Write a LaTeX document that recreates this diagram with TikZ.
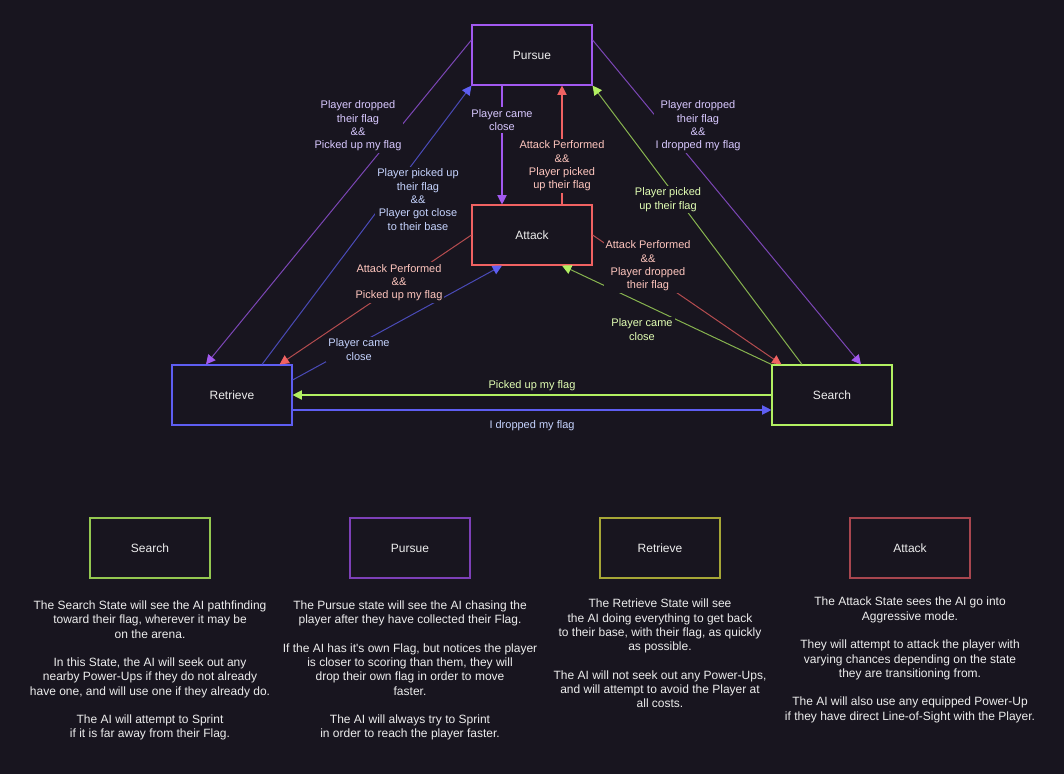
\documentclass[tikz,border=0pt]{standalone}
\usepackage{fontspec}
\setmainfont{Liberation Sans}
\usetikzlibrary{positioning,calc,arrows.meta}

\definecolor{bg}{HTML}{18151F}
\definecolor{cpur}{HTML}{A259F0}
\definecolor{cred}{HTML}{F06262}
\definecolor{cblu}{HTML}{5E5EF2}
\definecolor{cgrn}{HTML}{B2F062}
\definecolor{tpur}{HTML}{D8C8FF}
\definecolor{tred}{HTML}{FFC6BE}
\definecolor{tblu}{HTML}{C6D4FF}
\definecolor{tgrn}{HTML}{E2FFB4}
\definecolor{ttxt}{HTML}{EDEDED}
\definecolor{lgrn}{HTML}{94C850}
\definecolor{lpur}{HTML}{7D40B8}
\definecolor{lyel}{HTML}{A6A636}
\definecolor{lred}{HTML}{A8464F}

\begin{document}
\begin{tikzpicture}[x=0.75pt,y=-0.75pt,
    state/.style={draw=#1,rectangle,minimum width=90pt,minimum height=45pt,line width=0.85pt,fill=bg,text=ttxt,inner sep=0pt,font=\fontsize{9}{10}\selectfont},
    edge/.style={line width=0.8pt,draw=#1,-{Triangle[length=7pt,width=7pt,color=#1]}},
    slant/.style={line width=0.75pt,draw=#1!72!bg,-{Triangle[length=7pt,width=7pt,color=#1]}},
    lbl/.style={fill=bg,align=center,inner sep=1.5pt,font=\fontsize{8.25}{10}\selectfont},
    desc/.style={align=center,anchor=north,text=ttxt,inner sep=0pt,font=\fontsize{9}{10.7}\selectfont}]
    \fill[bg] (0,0) rectangle (1064,774);
    \useasboundingbox (0,0) rectangle (1064,774);

    % States
    \node[state=cpur] (pursue) at (532,55) {Pursue};
    \node[state=cred] (attack) at (532,235) {Attack};
    \node[state=cblu] (retrieve) at (232,395) {Retrieve};
    \node[state=cgrn] (search) at (832,395) {Search};

    % Transitions
    \draw[edge=cpur] ($(pursue.south)+(-30,0)$) -- ($(attack.north)+(-30,0)$);
    \draw[edge=cred] ($(attack.north)+(30,0)$) -- ($(pursue.south)+(30,0)$);
    \draw[slant=cpur] ($(pursue.west)+(0,-15)$) -- ($(retrieve.north)+(-26,0)$);
    \draw[slant=cblu] ($(retrieve.north)+(30,0)$) -- (pursue.south west);
    \draw[slant=cgrn] ($(search.north)+(-30,0)$) -- (pursue.south east);
    \draw[slant=cpur] ($(pursue.east)+(0,-15)$) -- ($(search.north)+(29,0)$);
    \draw[slant=cred] (attack.west) -- ($(retrieve.north east)+(-13,0)$);
    \draw[slant=cblu] ($(retrieve.east)+(0,-15)$) -- ($(attack.south)+(-30,0)$);
    \draw[slant=cgrn] (search.north west) -- ($(attack.south)+(30,0)$);
    \draw[slant=cred] (attack.east) -- ($(search.north west)+(10,0)$);
    \draw[edge=cgrn] (search.west) -- (retrieve.east);
    \draw[edge=cblu] ($(retrieve.east)+(0,15)$) -- ($(search.west)+(0,15)$);

    % Transition labels
    \node[lbl,text=tpur] (l1) at (502,120) {Player came\\close};
    \node[lbl,text=tred] (l2) at (562,166) {Attack Performed\\\&\&\\Player picked\\up their flag};
    \node[lbl,text=tpur] (l3) at (358,126) {Player dropped\\their flag\\\&\&\\Picked up my flag};
    \node[lbl,text=tblu] (l4) at (418,199.5) {Player picked up\\their flag\\\&\&\\Player got close\\to their base};
    \node[lbl,text=tgrn] (l5) at (668,199.5) {Player picked\\up their flag};
    \node[lbl,text=tpur] (l6) at (698,126) {Player dropped\\their flag\\\&\&\\I dropped my flag};
    \node[lbl,text=tred] (l7) at (399,282.5) {Attack Performed\\\&\&\\Picked up my flag};
    \node[lbl,text=tblu] (l8) at (359,349.5) {Player came\\close};
    \node[lbl,text=tgrn] (l9) at (642,329.5) {Player came\\close};
    \node[lbl,text=tred] (l10) at (648,266) {Attack Performed\\\&\&\\Player dropped\\their flag};
    \node[lbl,text=tgrn] (l11) at (532,386) {Picked up my flag};
    \node[lbl,text=tblu] (l12) at (532,426) {I dropped my flag};

    % Legend
    \node[state=lgrn] (lsearch) at (150,548) {Search};
    \node[state=lpur] (lpursue) at (410,548) {Pursue};
    \node[state=lyel] (lretrieve) at (660,548) {Retrieve};
    \node[state=lred] (lattack) at (910,548) {Attack};

    \node[desc] (dsearch) at (150,600.5) {The Search State will see the AI pathfinding\\toward their flag, wherever it may be\\on the arena.\\[10.7pt]In this State, the AI will seek out any\\nearby Power-Ups if they do not already\\have one, and will use one if they already do.\\[10.7pt]The AI will attempt to Sprint\\if it is far away from their Flag.};
    \node[desc] (dpursue) at (410,600.5) {The Pursue state will see the AI chasing the\\player after they have collected their Flag.\\[10.7pt]If the AI has it\textquotesingle s own Flag, but notices the player\\is closer to scoring than them, they will\\drop their own flag in order to move\\faster.\\[10.7pt]The AI will always try to Sprint\\in order to reach the player faster.};
    \node[desc] (dretrieve) at (660,599) {The Retrieve State will see\\the AI doing everything to get back\\to their base, with their flag, as quickly\\as possible.\\[10.7pt]The AI will not seek out any Power-Ups,\\and will attempt to avoid the Player at\\all costs.};
    \node[desc] (dattack) at (910,597) {The Attack State sees the AI go into\\Aggressive mode.\\[10.7pt]They will attempt to attack the player with\\varying chances depending on the state\\they are transitioning from.\\[10.7pt]The AI will also use any equipped Power-Up\\if they have direct Line-of-Sight with the Player.};
\end{tikzpicture}
\end{document}
